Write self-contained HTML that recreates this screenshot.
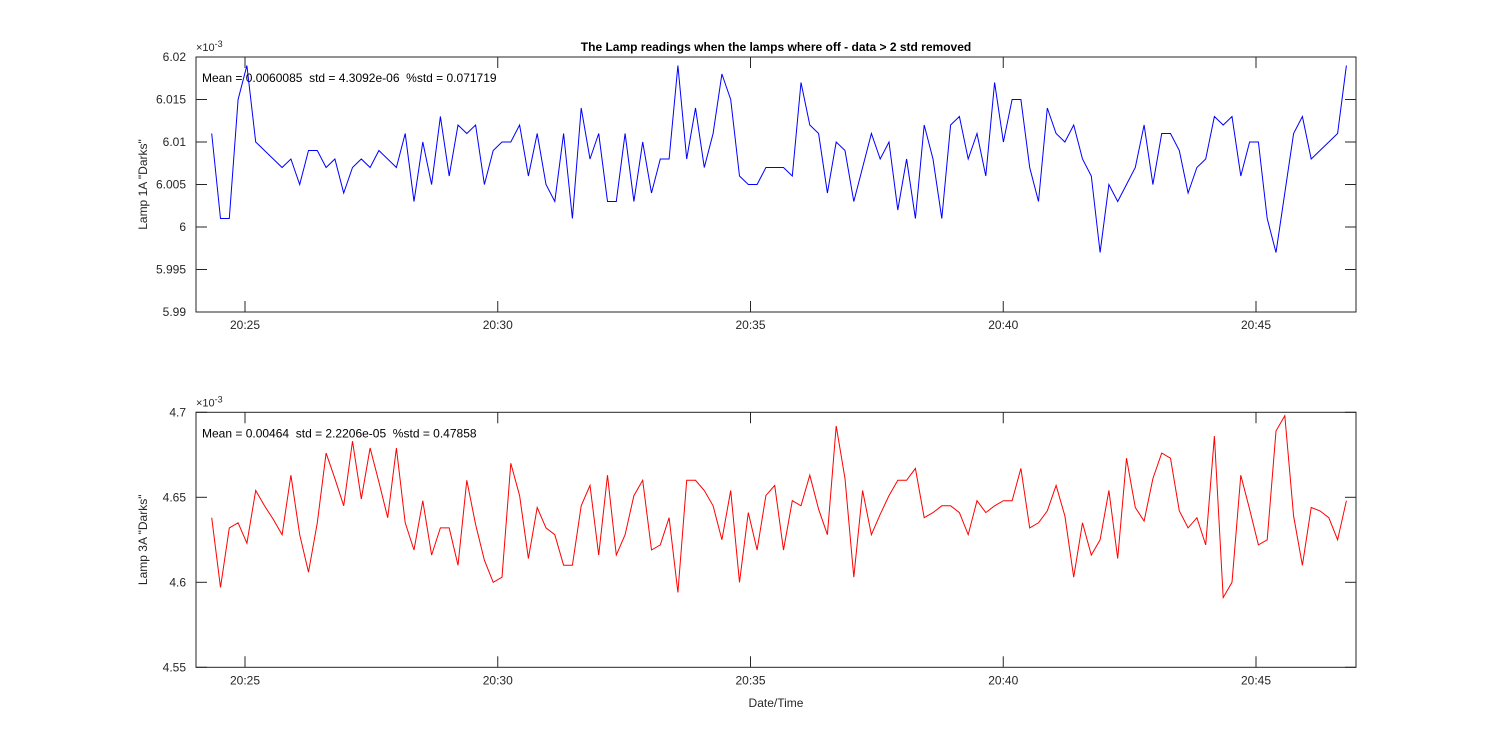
<!DOCTYPE html>
<html><head><meta charset="utf-8"><style>
body{margin:0;background:#fff}
svg{display:block;font-family:"Liberation Sans",Arial,sans-serif}
</style></head><body>
<svg id="chart" width="1500" height="750"></svg>
<script>
// ---- data ----
const lamp1A = [11,1,1,15,19,10,9,8,7,8,5,9,9,7,8,4,7,8,7,9,8,7,11,3,10,5,13,6,12,11,12,5,9,10,10,12,6,11,5,3,11,1,14,8,
 11,3,3,11,3,10,4,8,8,19,8,14,7,11,18,15,6,5,5,7,7,7,6,17,12,11,4,10,9,3,7,11,8,10,2,8,1,12,8,1,12,13,8,11,6,
 17,10,15,15,7,3,14,11,10,12,8,6,-3,5,3,5,7,12,5,11,11,9,4,7,8,13,12,13,6,10,10,1,-3,4,11,13,8,9,10,11,19].map(v=>6+v/1000);
const lamp3A = [4.638,4.597,4.632,4.635,4.623,4.654,4.645,4.637,4.628,4.663,4.628,4.606,4.635,4.676,4.661,4.645,4.683,4.649,4.679,4.659,4.638,4.679,4.635,4.619,4.648,4.616,4.632,4.632,4.610,4.660,4.634,4.613,4.600,4.603,4.670,4.651,4.614,4.644,4.632,4.628,4.610,4.610,4.645,4.657,
 4.616,4.663,4.616,4.628,4.651,4.660,4.619,4.622,4.638,4.594,4.660,4.660,4.654,4.645,4.625,4.654,4.600,4.641,4.619,4.651,4.657,4.619,4.648,4.645,4.663,4.643,4.628,4.692,4.661,4.603,4.654,4.628,4.640,4.651,4.660,4.660,4.667,4.638,4.641,4.645,4.645,4.641,4.628,4.648,4.641,
 4.645,4.648,4.648,4.667,4.632,4.635,4.642,4.657,4.639,4.603,4.635,4.616,4.625,4.654,4.614,4.673,4.644,4.636,4.661,4.676,4.673,4.642,4.632,4.638,4.622,4.686,4.591,4.600,4.663,4.643,4.622,4.625,4.689,4.698,4.639,4.610,4.644,4.642,4.638,4.625,4.648];
const startMin = -0.658;   // minutes relative to 20:25
const stepMin = 0.174;
const xTickMins = [0,5,10,15,20];
const xTickLabels = ["20:25","20:30","20:35","20:40","20:45"];
const yTicks1 = [5.99,5.995,6,6.005,6.01,6.015,6.02];
const yTickLabels1 = ["5.99","5.995","6","6.005","6.01","6.015","6.02"];
const yTicks2 = [4.55,4.6,4.65,4.7];
const yTickLabels2 = ["4.55","4.6","4.65","4.7"];

const NS="http://www.w3.org/2000/svg";
const svg=document.getElementById('chart');
function el(tag,attrs,parent){const e=document.createElementNS(NS,tag);for(const k in attrs)e.setAttribute(k,attrs[k]);(parent||svg).appendChild(e);return e;}
const L=196,R=1356;
const xScale=m=>245+m*50.55;

function panel(top,bottom,ymin,ymax,ticks,labels,data,color,ylabel,stat,name){
  const g=el('g',{});
  
  
  const y=v=>bottom-(v-ymin)/(ymax-ymin)*(bottom-top);
  el('rect',{x:L,y:top,width:R-L,height:bottom-top,fill:'#fff',stroke:'#262626','stroke-width':1},g);
  ticks.forEach((t,i)=>{
    const yy=y(t);
    el('line',{x1:L,x2:L+11,y1:yy,y2:yy,stroke:'#262626'},g);
    el('line',{x1:R,x2:R-11,y1:yy,y2:yy,stroke:'#262626'},g);
    const tx=el('text',{x:186,y:yy+4,'text-anchor':'end','font-size':12,fill:'#262626'},g);
    tx.textContent=labels[i];
    
    
  });
  xTickMins.forEach((m,i)=>{
    const xx=xScale(m);
    el('line',{x1:xx,x2:xx,y1:bottom,y2:bottom-11,stroke:'#262626'},g);
    el('line',{x1:xx,x2:xx,y1:top,y2:top+11,stroke:'#262626'},g);
    const tx=el('text',{x:xx,y:bottom+17,'text-anchor':'middle','font-size':12,fill:'#262626'},g);
    tx.textContent=xTickLabels[i];
    
    
  });
  const pts=data.map((v,i)=>xScale(startMin+i*stepMin).toFixed(1)+','+y(v).toFixed(1)).join(' ');
  const pl=el('polyline',{points:pts,fill:'none',stroke:color,'stroke-width':1},g);
  
  
  const ex=el('text',{x:196,y:top-6,'font-size':11,fill:'#262626'},g);
  ex.innerHTML='×10<tspan dy="-4" font-size="9">-3</tspan>';
  
  
  const st=el('text',{x:202,y:top+25,'font-size':12,fill:'#000',style:'white-space:pre'},g);
  st.textContent=stat;
  
  
  const yl=el('text',{x:0,y:0,transform:`translate(147,${(top+bottom)/2}) rotate(-90)`,'text-anchor':'middle','font-size':12,fill:'#262626'},g);
  yl.textContent=ylabel;
  
  
}
panel(57,312,5.99,6.02,yTicks1,yTickLabels1,lamp1A,'#0000ff','Lamp 1A "Darks"','Mean = 0.0060085  std = 4.3092e-06  %std = 0.071719','top-panel');
panel(412.3,667.3,4.55,4.7,yTicks2,yTickLabels2,lamp3A,'#ff0000','Lamp 3A "Darks"','Mean = 0.00464  std = 2.2206e-05  %std = 0.47858','bottom-panel');
const t=el('text',{x:776,y:51,'text-anchor':'middle','font-size':12,'font-weight':'bold',fill:'#000'});
t.textContent='The Lamp readings when the lamps where off - data > 2 std removed';


const xl=el('text',{x:776,y:707,'text-anchor':'middle','font-size':12,fill:'#262626'});
xl.textContent='Date/Time';


</script>
</body></html>
